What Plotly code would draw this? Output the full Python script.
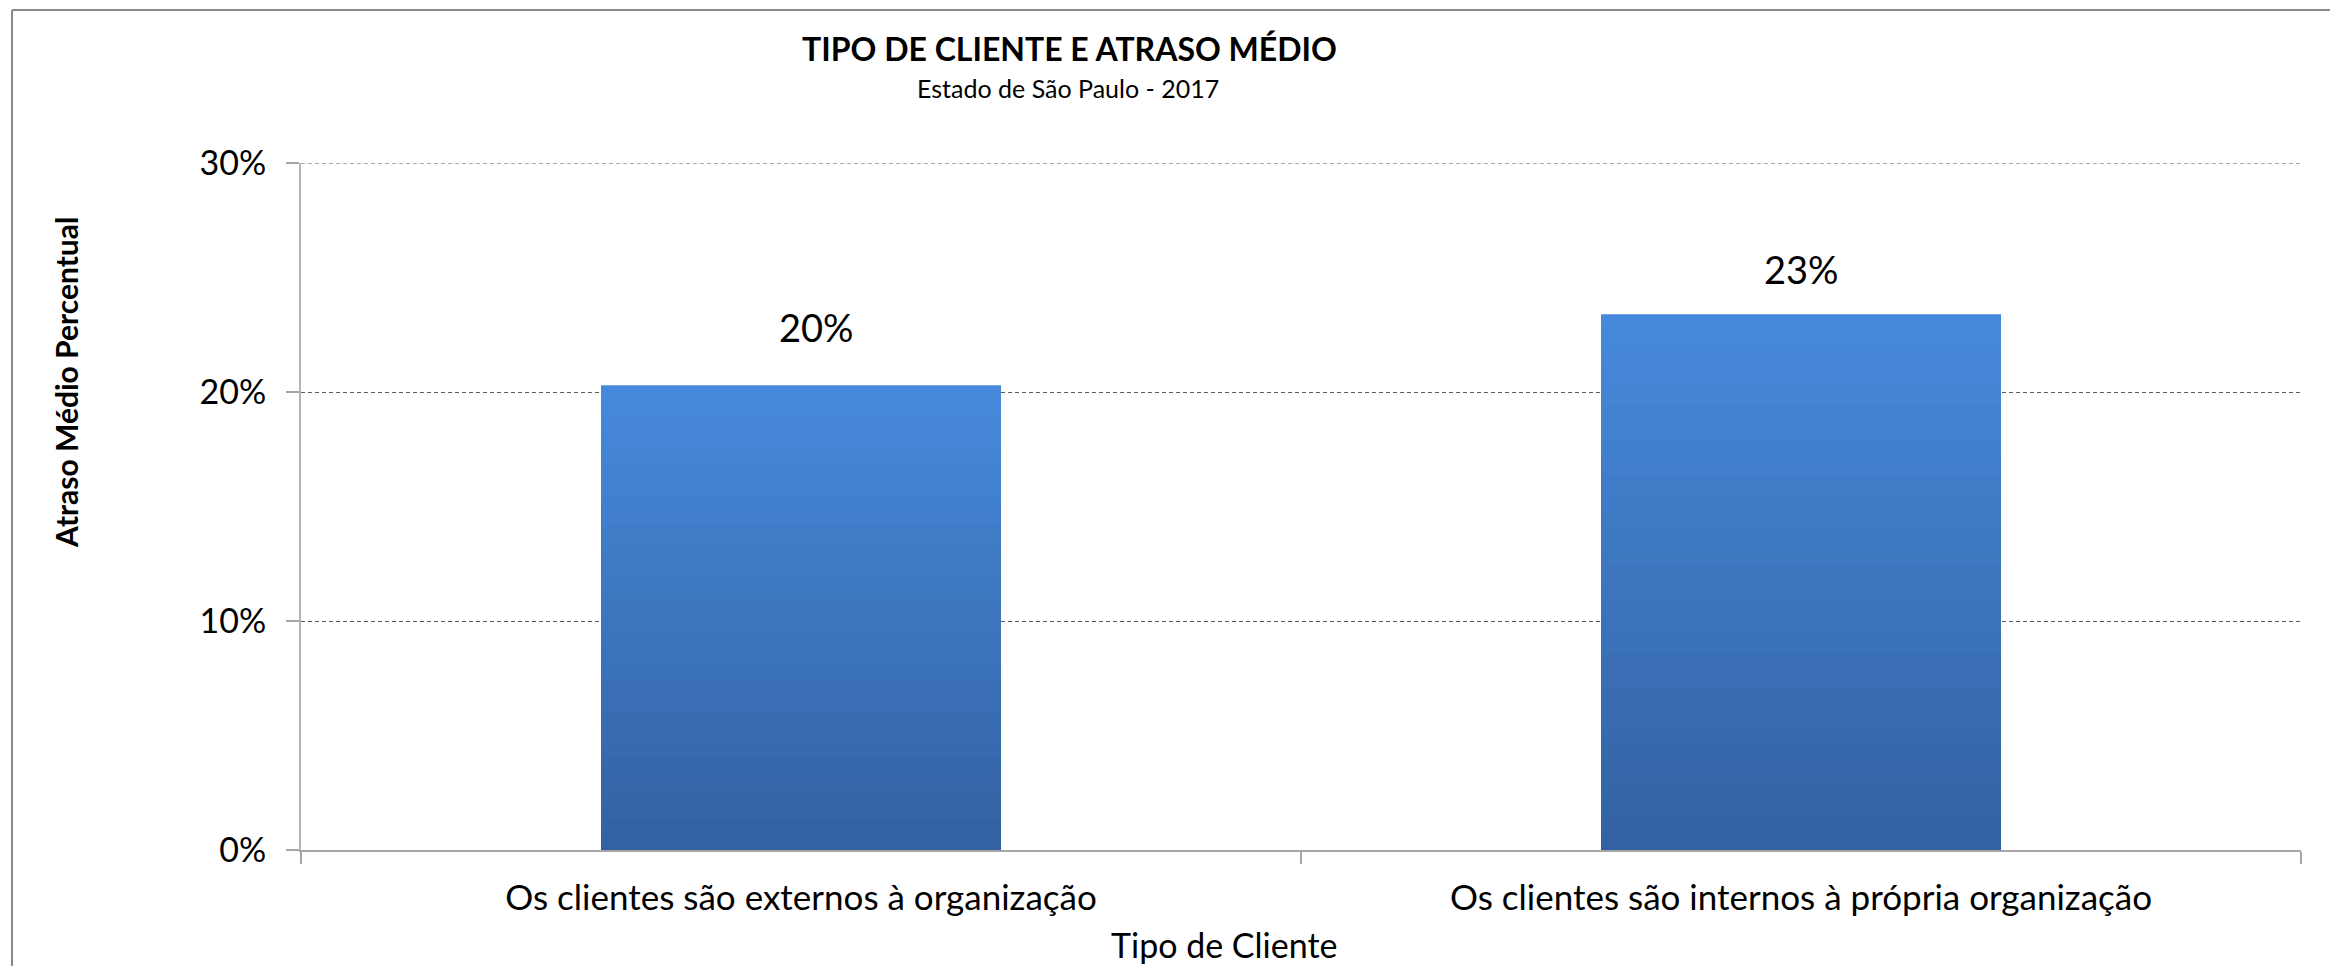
import plotly.graph_objects as go

# ---- data ----
categories = ["Os clientes são externos à organização",
              "Os clientes são internos à própria organização"]
atraso_medio = [0.203, 0.234]
y_ticks = [0, 0.1, 0.2, 0.3]
y_tick_labels = ["0%", "10%", "20%", "30%"]

title_text = "TIPO DE CLIENTE E ATRASO MÉDIO"
subtitle_text = "Estado de São Paulo - 2017"
y_title = "Atraso Médio Percentual"
x_title = "Tipo de Cliente"

# ---- style ----
OFF = 8  # page body margin (each side)
W, H = 2338 - 2 * OFF, 974 - 2 * OFF
L, T = 301 - OFF, 163 - OFF
R = (2338 - OFF) - 2301
B = (974 - OFF) - 850
PLOT_W = W - L - R
PLOT_H = H - T - B
FONT = "Lato"
GRID_COLOR = "#5a5a5a"
GRID_DASH = "4px,3px"
FRAME_COLOR = "#8a8a8a"
top_rgb = (0x46, 0x89, 0xDB)
bot_rgb = (0x33, 0x62, 0xA2)
N_BANDS = 30
label_xshift = [15, 0]
label_yshift = [33, 20]


def px_x(p):
    return (p - OFF - L) / PLOT_W


def px_y(p):
    return (H - B - (p - OFF)) / PLOT_H


fig = go.Figure()

# vertical gradient: overlaid bars, each a fraction of the value
for k in range(N_BANDS):
    frac = 1 - k / N_BANDS
    t = k / (N_BANDS - 1)
    c = tuple(round(top_rgb[i] + (bot_rgb[i] - top_rgb[i]) * t) for i in range(3))
    fig.add_trace(go.Bar(
        x=categories,
        y=[v * frac for v in atraso_medio],
        marker=dict(color="rgb(%d,%d,%d)" % c, line=dict(width=0)),
        width=0.4,
        hoverinfo="skip" if k else None,
        showlegend=False,
        name="Atraso médio",
    ))

annotations = []
for i, (cat, v) in enumerate(zip(categories, atraso_medio)):
    annotations.append(dict(
        x=cat, y=v, xref="x", yref="y",
        text=f"{round(v * 100)}%", showarrow=False,
        yanchor="bottom", xanchor="center",
        xshift=label_xshift[i], yshift=label_yshift[i],
        font=dict(family=FONT, size=38, color="#000000"),
    ))

annotations += [
    dict(x=px_x(1069), y=px_y(48), xref="paper", yref="paper",
         text="<b>" + title_text + "</b>", showarrow=False,
         xanchor="center", yanchor="middle",
         font=dict(family=FONT, size=32, color="#000000")),
    dict(x=px_x(1068), y=px_y(88), xref="paper", yref="paper",
         text=subtitle_text, showarrow=False,
         xanchor="center", yanchor="middle",
         font=dict(family=FONT, size=25, color="#000000")),
    dict(x=px_x(66), y=px_y(383), xref="paper", yref="paper",
         text="<b>" + y_title + "</b>", showarrow=False, textangle=-90,
         xanchor="center", yanchor="middle",
         font=dict(family=FONT, size=30, color="#000000")),
    dict(x=px_x(1224), y=px_y(944), xref="paper", yref="paper",
         text=x_title, showarrow=False,
         xanchor="center", yanchor="middle",
         font=dict(family=FONT, size=34, color="#000000")),
]

fig.update_layout(
    width=W, height=H,
    margin=dict(l=L, r=R, t=T, b=B, pad=0),
    paper_bgcolor="white", plot_bgcolor="white",
    barmode="overlay",
    showlegend=False,
    annotations=annotations,
    shapes=[
        # chart-area frame: only its top and left edges are inside the picture
        dict(type="line", xref="paper", yref="paper",
             x0=px_x(12), x1=px_x(2400), y0=px_y(10), y1=px_y(10),
             line=dict(color=FRAME_COLOR, width=2), layer="below"),
        dict(type="line", xref="paper", yref="paper",
             x0=px_x(12), x1=px_x(12), y0=px_y(10), y1=px_y(1050),
             line=dict(color=FRAME_COLOR, width=2), layer="below"),
        # top gridline (plotly omits the grid line at the range edge)
        dict(type="line", xref="paper", yref="y",
             x0=0, x1=1, y0=y_ticks[-1], y1=y_ticks[-1],
             line=dict(color=GRID_COLOR, width=1, dash=GRID_DASH),
             layer="below"),
    ],
)

fig.update_xaxes(
    type="category",
    showline=True, linecolor="#a6a6a6", linewidth=2,
    ticks="outside", tickson="boundaries", ticklen=12, tickcolor="#a6a6a6", tickwidth=2,
    showgrid=False, zeroline=False,
    tickfont=dict(family=FONT, size=35, color="#000000"),
    ticklabelstandoff=16,
)
fig.update_yaxes(
    range=[0, y_ticks[-1]],
    tickvals=y_ticks, ticktext=y_tick_labels,
    showline=True, linecolor="#b4b4b4", linewidth=2,
    ticks="outside", ticklen=13, tickcolor="#a6a6a6", tickwidth=2,
    showgrid=True, gridcolor=GRID_COLOR, gridwidth=1, griddash=GRID_DASH,
    zeroline=False,
    tickfont=dict(family=FONT, size=34, color="#000000"),
    ticklabelstandoff=13,
)

fig.write_html("out.html")
